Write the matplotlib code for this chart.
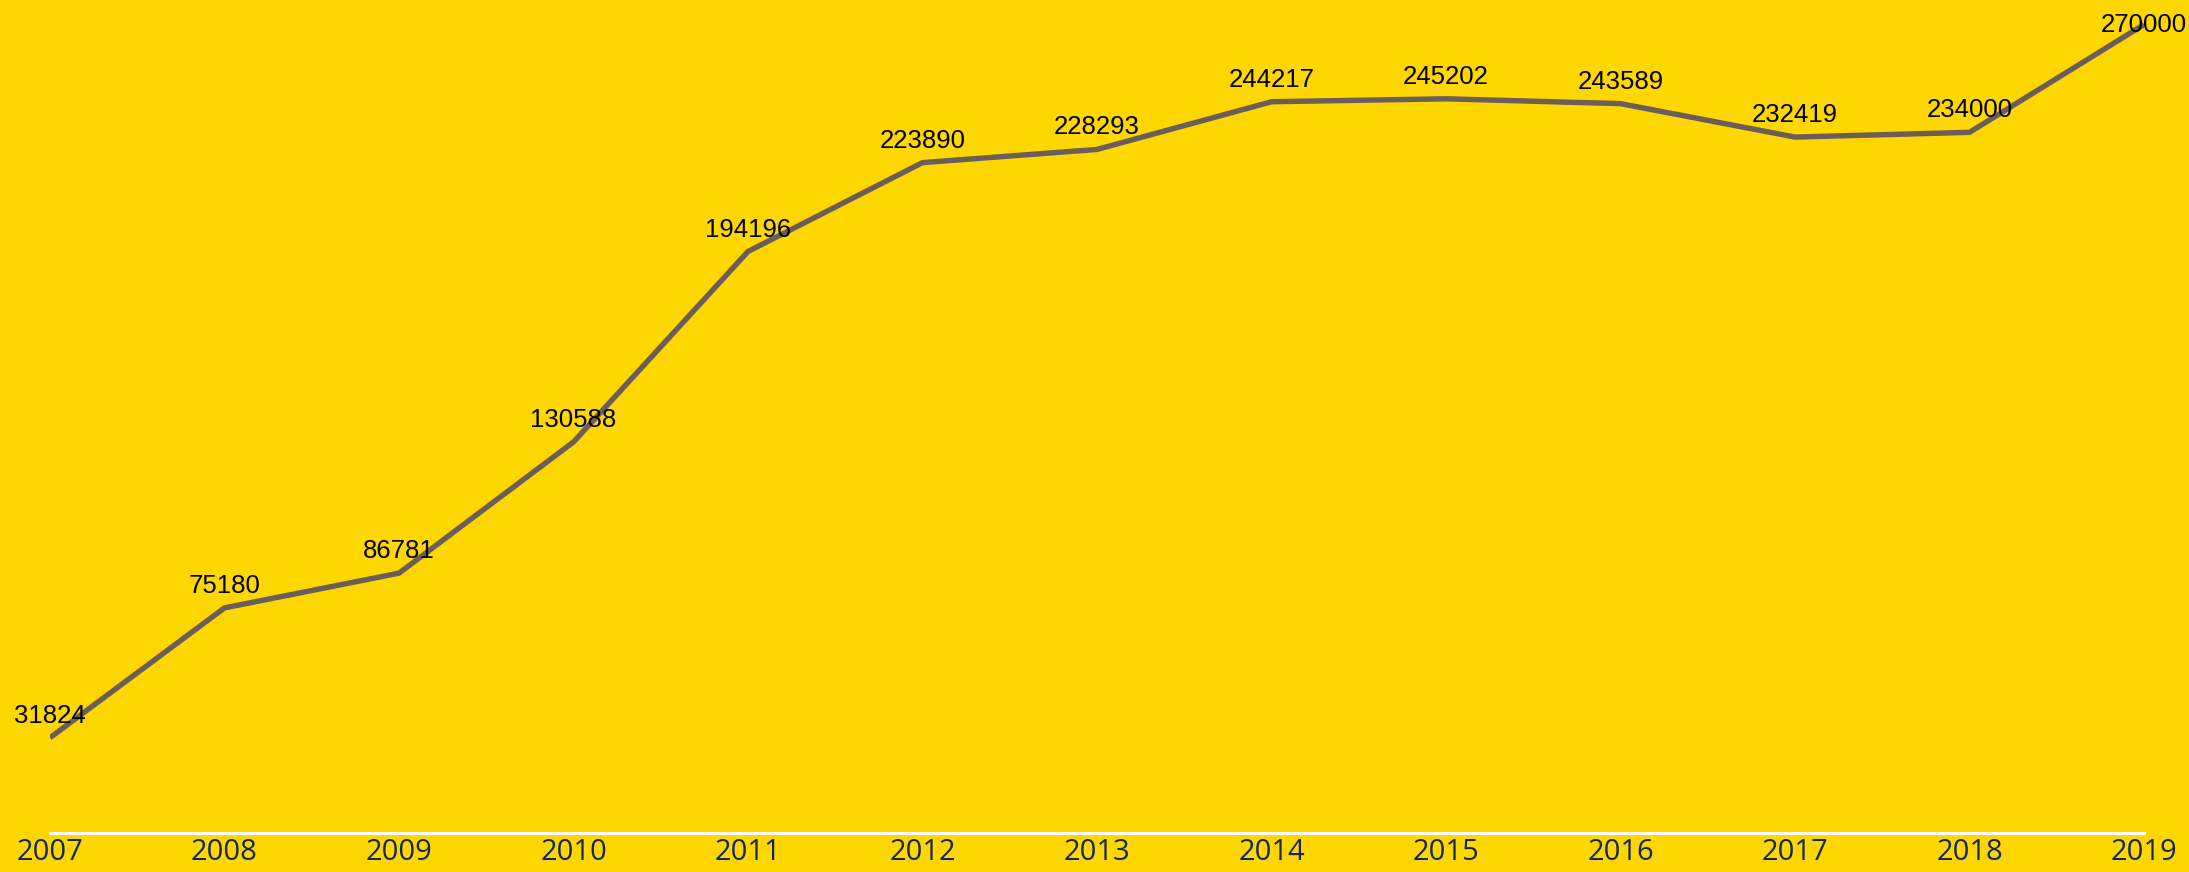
import matplotlib
matplotlib.use("Agg")
import matplotlib.pyplot as plt

years = [2007, 2008, 2009, 2010, 2011, 2012, 2013, 2014, 2015, 2016, 2017, 2018, 2019]
values = [31824, 75180, 86781, 130588, 194196, 223890, 228293, 244217,
          245202, 243589, 232419, 234000, 270000]

bg = "#FFD700"
fig = plt.figure(figsize=(21.89, 8.72), dpi=100, facecolor=bg)
ax = fig.add_axes([50 / 2189, 39 / 872, 2094 / 2189, 833 / 872])
ax.set_facecolor(bg)

ax.plot(years, values, color="#6b5e5a", lw=3.9, solid_capstyle="butt", zorder=3)

ytop = 278200
for x, v in zip(years, values):
    if v > 262000:
        # top label is pushed down so it stays inside the chart
        ax.annotate(str(v), (x, ytop), xytext=(0, -23), textcoords="offset points",
                    ha="center", va="baseline", fontsize=18.5, family="Liberation Sans",
                    color="black", zorder=4, annotation_clip=False)
    else:
        ax.annotate(str(v), (x, v), xytext=(0, 10.8), textcoords="offset points",
                    ha="center", va="baseline", fontsize=18.5, family="Liberation Sans",
                    color="black", zorder=4)

ax.set_xlim(2007, 2019)
ax.set_ylim(0, ytop)
ax.set_xticks(years)
ax.set_xticklabels([str(y) for y in years], fontsize=21, family="Open Sans",
                   color="#142858")
ax.tick_params(axis="x", length=0, pad=3.5)
ax.set_yticks([])
for s in ["top", "left", "right"]:
    ax.spines[s].set_visible(False)
ax.spines["bottom"].set_color("white")
ax.spines["bottom"].set_linewidth(2.2)

fig.savefig("out.png", dpi=100, facecolor=bg)
